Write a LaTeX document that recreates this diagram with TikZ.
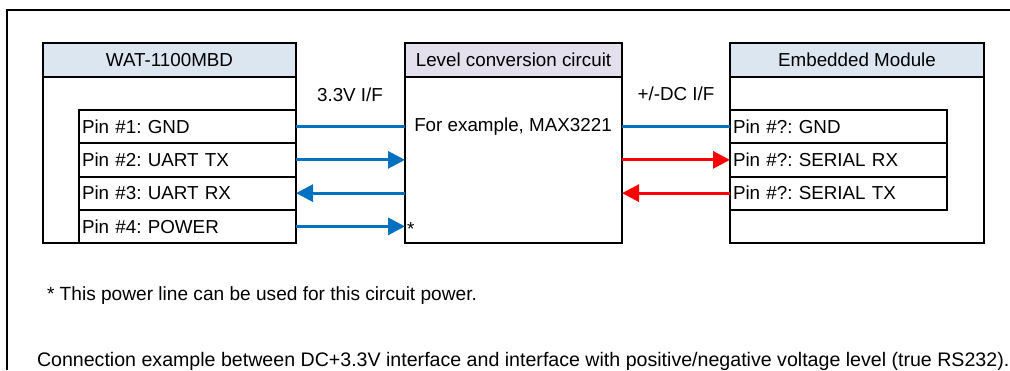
\documentclass[tikz,border=0pt]{standalone}
\usepackage{fontspec}
\setmainfont{Liberation Sans}
\frenchspacing
\usetikzlibrary{arrows.meta, positioning}
\definecolor{mBlue}{HTML}{0070C0}
\definecolor{mRed}{HTML}{FF0000}
\definecolor{mHeadBlue}{HTML}{DCE6F1}
\definecolor{mHeadLav}{HTML}{E4DFEC}

\begin{document}
\begin{tikzpicture}[x=1pt, y=-1pt,
      every node/.style={font=\fontsize{18.8}{22}\selectfont, inner sep=0pt, outer sep=0pt},
      hdr/.style={draw, line width=2pt, minimum height=34pt, anchor=north west},
      bodybox/.style={draw, line width=2pt, minimum height=166pt, anchor=north west},
      pinbox/.style={draw, line width=2pt, minimum height=33.25pt, text width=211pt,
        inner xsep=3pt, align=left, anchor=north west},
      wire/.style={line width=3pt},
      sig/.style={line width=3pt, -{Triangle[length=17pt, width=17pt]}}]
    \useasboundingbox (0,0) rectangle (1010,370);
    % frame
    \draw[line width=2pt] (7,370) -- (7,10) -- (1010,10);
    % WAT-1100MBD
    \node[bodybox, minimum width=253pt] (wat) at (43,77) {};
    \node[hdr, minimum width=253pt, fill=mHeadBlue] (watH) at (43,43) {WAT-1100MBD};
    \node[pinbox] (p1) at (79,110)    {Pin \#1: GND};
    \node[pinbox] (p2) at (79,143.25) {Pin \#2: UART TX};
    \node[pinbox] (p3) at (79,176.5)  {Pin \#3: UART RX};
    \node[pinbox] (p4) at (79,209.75) {Pin \#4: POWER};
    % level conversion
    \node[bodybox, minimum width=217pt] (conv) at (405,77) {};
    \node[hdr, minimum width=217pt, fill=mHeadLav] (convH) at (405,43) {Level conversion circuit};
    \node (ex) at (513,127) {For example, MAX3221};
    \node[anchor=west] (star) at (407,229) {*};
    % embedded module
    \node[bodybox, minimum width=254pt] (emb) at (730,77) {};
    \node[hdr, minimum width=254pt, fill=mHeadBlue] (embH) at (730,43) {Embedded Module};
    \node[pinbox] (e1) at (730,110)    {Pin \#?: GND};
    \node[pinbox] (e2) at (730,143.25) {Pin \#?: SERIAL RX};
    \node[pinbox] (e3) at (730,176.5)  {Pin \#?: SERIAL TX};
    % interface labels
    \node (ifL) at (350,95) {3.3V I/F};
    \node (ifR) at (676,94) {+/-DC I/F};
    % 3.3V side
    \draw[wire, mBlue] (p1.east) -- (p1.east -| conv.west);
    \draw[sig, mBlue] (p2.east) -- (p2.east -| conv.west);
    \draw[sig, mBlue] (p3.east -| conv.west) -- (p3.east);
    \draw[sig, mBlue] (p4.east) -- (p4.east -| conv.west);
    % +/-DC side
    \draw[wire, mBlue] (e1.west -| conv.east) -- (e1.west);
    \draw[sig, mRed] (e2.west -| conv.east) -- (e2.west);
    \draw[sig, mRed] (e3.west) -- (e3.west -| conv.east);
    % notes
    \node[anchor=base west, font=\fontsize{19.1}{22}\selectfont] (note) at (47,300) {* This power line can be used for this circuit power.};
    \node[anchor=base west, font=\fontsize{19.6}{22}\selectfont] (caption) at (37,366) {Connection example between DC+3.3V interface and interface with positive/negative voltage level (true RS232).};
  \end{tikzpicture}
\end{document}
